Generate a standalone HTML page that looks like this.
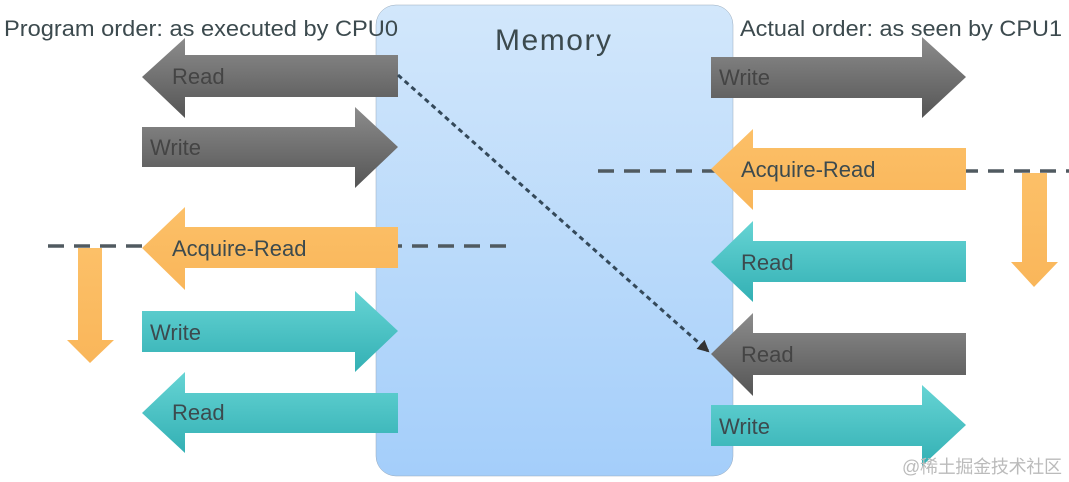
<!DOCTYPE html>
<html><head><meta charset="utf-8"><style>
html,body{margin:0;padding:0;background:#fff;width:1069px;height:482px;overflow:hidden}
svg{display:block}
text{font-family:"Liberation Sans",sans-serif;fill:#3c4a4e}
</style></head><body>
<svg width="1069" height="482" viewBox="0 0 1069 482" xmlns="http://www.w3.org/2000/svg">
<defs>
<linearGradient id="mem" x1="0" y1="0" x2="0" y2="1"><stop offset="0" stop-color="#d2e7fb"/><stop offset="1" stop-color="#a4cefa"/></linearGradient>
<linearGradient id="gray" x1="0" y1="0" x2="0" y2="1"><stop offset="0" stop-color="#8c8c8c"/><stop offset="1" stop-color="#555"/></linearGradient>
<linearGradient id="teal" x1="0" y1="0" x2="0" y2="1"><stop offset="0" stop-color="#66d4d4"/><stop offset="1" stop-color="#33b0b4"/></linearGradient>
<linearGradient id="org" x1="0" y1="0" x2="0" y2="1"><stop offset="0" stop-color="#fcc068"/><stop offset="1" stop-color="#f9b65a"/></linearGradient>
<marker id="ah" markerWidth="12" markerHeight="12" refX="10" refY="6" orient="auto" markerUnits="userSpaceOnUse"><path d="M0,0 L12,6 L0,12 z" fill="#333"/></marker>
</defs>
<rect x="376" y="5" width="357" height="471" rx="20" fill="url(#mem)" stroke="#9ab" stroke-width="0.5"/>
<text x="553" y="50" font-size="30" text-anchor="middle" textLength="116">Memory</text>
<text x="4" y="36" font-size="22" textLength="394" lengthAdjust="spacingAndGlyphs">Program order: as executed by CPU0</text>
<text x="740" y="36" font-size="22" textLength="322" lengthAdjust="spacingAndGlyphs">Actual order: as seen by CPU1</text>

<line x1="48" y1="246" x2="515" y2="246" stroke="#505a60" stroke-width="3.5" stroke-dasharray="16,10"/>
<line x1="598" y1="171" x2="1069" y2="171" stroke="#505a60" stroke-width="3.5" stroke-dasharray="16,10"/>

<path d="M142,77 L185,38 L185,55 L398,55 L398,97 L185,97 L185,118 Z" fill="url(#gray)"/>
<text x="172" y="84" font-size="22" style="fill:#444">Read</text>
<path d="M142,127 L355,127 L355,107 L398,147 L355,188 L355,167 L142,167 Z" fill="url(#gray)"/>
<text x="150" y="155" font-size="22" style="fill:#444">Write</text>
<path d="M142,248 L185,207 L185,227 L398,227 L398,268 L185,268 L185,290 Z" fill="url(#org)"/>
<text x="172" y="256" font-size="22">Acquire-Read</text>
<path d="M142,311 L355,311 L355,291 L398,331 L355,372 L355,352 L142,352 Z" fill="url(#teal)"/>
<text x="150" y="340" font-size="22">Write</text>
<path d="M142,413 L185,372 L185,393 L398,393 L398,433 L185,433 L185,453 Z" fill="url(#teal)"/>
<text x="172" y="420" font-size="22">Read</text>
<path d="M78,248 L102,248 L102,340 L114,340 L90,363 L67,340 L78,340 Z" fill="url(#org)"/>

<path d="M711,57 L922,57 L922,37 L966,77 L922,118 L922,98 L711,98 Z" fill="url(#gray)"/>
<text x="719" y="85" font-size="22" style="fill:#444">Write</text>
<path d="M711,169 L753,129 L753,148 L966,148 L966,190 L753,190 L753,210 Z" fill="url(#org)"/>
<text x="741" y="177" font-size="22">Acquire-Read</text>
<path d="M711,262 L753,221 L753,241 L966,241 L966,282 L753,282 L753,302 Z" fill="url(#teal)"/>
<text x="741" y="270" font-size="22">Read</text>
<path d="M711,354 L753,313 L753,333 L966,333 L966,375 L753,375 L753,396 Z" fill="url(#gray)"/>
<text x="741" y="362" font-size="22" style="fill:#444">Read</text>
<path d="M711,405 L922,405 L922,385 L966,425 L922,466 L922,446 L711,446 Z" fill="url(#teal)"/>
<text x="719" y="434" font-size="22">Write</text>
<path d="M1022,173 L1047,173 L1047,262 L1058,262 L1034,287 L1011,262 L1022,262 Z" fill="url(#org)"/>

<line x1="398" y1="75" x2="708" y2="351" stroke="#34495a" stroke-width="3" stroke-dasharray="5,4" marker-end="url(#ah)"/>

<text x="902" y="473" font-size="18" textLength="160" style="fill:#bbb" font-family="Liberation Sans, Noto Sans CJK SC, sans-serif">@稀土掘金技术社区</text>
</svg>
</body></html>
